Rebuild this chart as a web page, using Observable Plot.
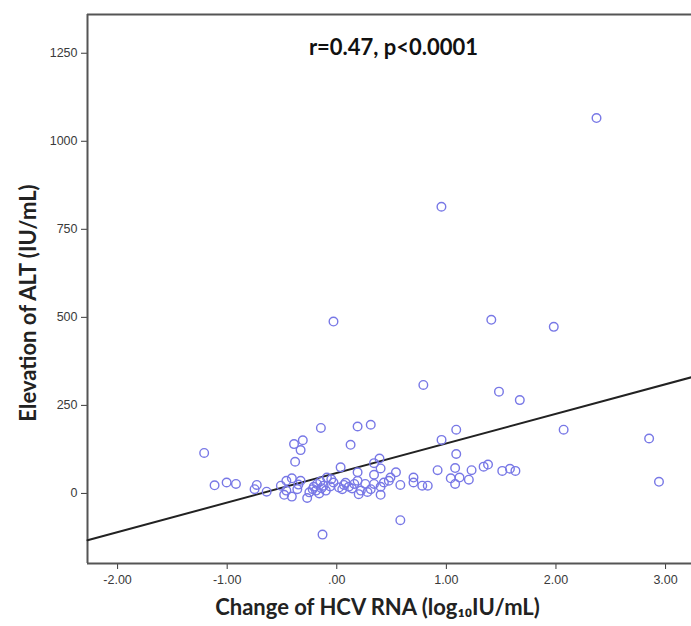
<!DOCTYPE html>
<html>
<head>
<meta charset="utf-8">
<script src="https://cdn.jsdelivr.net/npm/d3@7"></script>
<script src="https://cdn.jsdelivr.net/npm/@observablehq/plot@0.6"></script>
<style>
  html, body { margin: 0; padding: 0; background: #fff; }
  #chart svg { display: block; }
</style>
</head>
<body>
<div id="chart"></div>
<script>
// ---- Data ----
const hcvChange = [
  2.37, 0.955, -0.03, 1.41, 1.98, 0.79, 1.48, 1.67, 1.09, 2.07,
  2.85, 0.956, 2.94, -1.21, -0.145, 0.19, 0.31, -0.39, -0.31, -0.33,
  0.126, -0.38, 1.09, 0.39, 0.34, 0.035, 0.19, 0.40, 0.34, 0.54,
  0.92, 1.08, 1.23, 1.34, 1.38, 1.51, 1.58, 1.63, -1.115, -1.005,
  -0.92, -0.73, -0.75, -0.64, -0.51, -0.46, -0.41, -0.46, -0.48, -0.41,
  -0.36, -0.33, -0.27, -0.22, -0.21, -0.18, -0.15, -0.19, -0.10, -0.09,
  -0.03, 0.02, 0.065, 0.11, 0.16, 0.19, 0.22, 0.20, 0.26, 0.31,
  0.34, 0.40, 0.40, 0.43, 0.475, 0.49, 0.58, 0.58, 0.70, 0.70,
  0.78, 0.83, 1.04, 1.08, 1.12, 1.205, -0.13, -0.14, -0.12, -0.06,
  0.05, 0.08, -0.25, -0.16, 0.28, 0.14, -0.35, -0.05
];
const altElevation = [
  1066, 814, 488, 493, 473, 308, 289, 265, 181, 181,
  156, 152, 33, 115, 186, 190, 195, 140, 151, 123,
  138, 90, 112, 99, 86, 74, 60, 71, 53, 60,
  66, 72, 66, 76, 82, 64, 70, 64, 23, 31,
  27, 24, 12, 5, 22, 36, 43, 8, -4, -9,
  12, 36, -13, 12, 19, 27, 34, 8, 8, 45,
  31, 17, 24, 19, 27, 36, 8, -2, 27, 12,
  27, 19, -4, 31, 36, 45, 24, -76, 45, 31,
  22, 22, 43, 27, 45, 39, -117, 15, 22, 20,
  12, 30, 3, 0, 4, 14, 25, 40
];

// Fit line as drawn in the reference (end values)
const fitX = [-2.2745, 3.2367];
const fitY = [-133, 330];

const xDomain = [-2.2745, 3.2367];
const yDomain = [-199, 1360];

const xTicks = [-2, -1, 0, 1, 2, 3];
const xTickLabels = ["-2.00", "-1.00", ".00", "1.00", "2.00", "3.00"];
const yTicks = [0, 250, 500, 750, 1000, 1250];
const yTickLabels = ["0", "250", "500", "750", "1000", "1250"];

const statLabel = ["r=0.47, p<0.0001"];
const xTitle = ["Change of HCV RNA (log\u2081\u2080IU/mL)"];
const yTitle = ["Elevation of ALT (IU/mL)"];

const points = hcvChange.map((x, i) => ({x, y: altElevation[i]}));
const fit = fitX.map((x, i) => ({x, y: fitY[i]}));

const chart = Plot.plot({
  width: 691,
  height: 626,
  marginLeft: 87,
  marginRight: 0,
  marginTop: 14,
  marginBottom: 63,
  style: {fontFamily: "'Liberation Sans', Arial, sans-serif", fontSize: "12.5px", color: "#3a3a3a", background: "#fff"},
  x: {
    domain: xDomain,
    ticks: xTicks,
    tickFormat: (d) => xTickLabels[xTicks.indexOf(d)],
    tickSize: 6,
    tickPadding: 6,
    label: null
  },
  y: {
    domain: yDomain,
    ticks: yTicks,
    tickFormat: (d) => yTickLabels[yTicks.indexOf(d)],
    tickSize: 6,
    tickPadding: 4,
    label: null
  },
  marks: [
    Plot.ruleY([yDomain[0], yDomain[1]], {stroke: "#555", strokeWidth: 2}),
    Plot.ruleX([xDomain[0]], {stroke: "#555", strokeWidth: 2}),
    Plot.line(fit, {x: "x", y: "y", stroke: "#222", strokeWidth: 2}),
    Plot.dot(points, {x: "x", y: "y", r: 4.3, stroke: "#7878e6", strokeWidth: 1.4, fill: "none"}),
    Plot.text(statLabel, {frameAnchor: "top", dx: 4, dy: 25, text: d => d, fontFamily: "Lato, 'Open Sans', sans-serif", fontWeight: "bold", fontSize: 22, fill: "#111"}),
    Plot.text(xTitle, {frameAnchor: "bottom", dx: -12, dy: 51, text: d => d, fontFamily: "Lato, 'Open Sans', sans-serif", fontWeight: "bold", fontSize: 22, fill: "#222"}),
    Plot.text(yTitle, {frameAnchor: "left", textAnchor: "middle", dx: -59, dy: 14, rotate: -90, text: d => d, fontFamily: "Lato, 'Open Sans', sans-serif", fontWeight: "bold", fontSize: 22, fill: "#222"})
  ]
});

document.getElementById("chart").appendChild(chart);
</script>
</body>
</html>
